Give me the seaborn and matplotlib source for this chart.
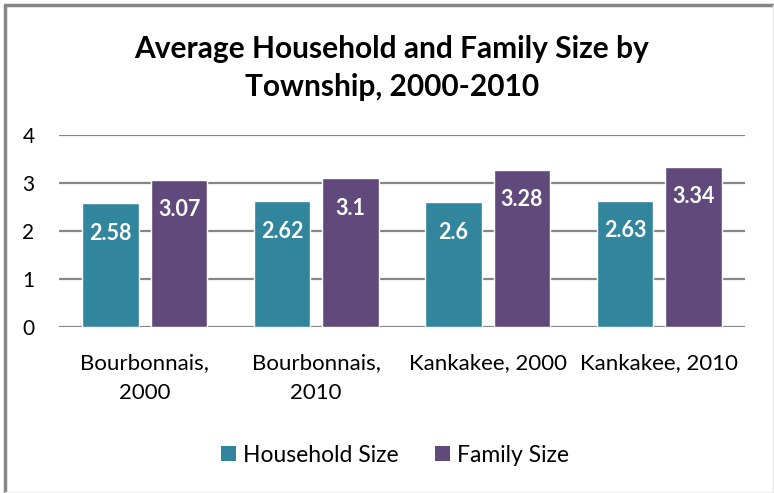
import pandas as pd
import seaborn as sns
import matplotlib.pyplot as plt
from matplotlib.lines import Line2D
from matplotlib.patches import Patch

townships = ['Bourbonnais,\n2000', 'Bourbonnais,\n2010', 'Kankakee, 2000', 'Kankakee, 2010']
household_size = [2.58, 2.62, 2.6, 2.63]
family_size = [3.07, 3.1, 3.28, 3.34]
series = ['Household Size', 'Family Size']
colors = ['#31859C', '#604A7B']

df = pd.DataFrame({
    'township': townships * 2,
    'value': household_size + family_size,
    'series': [series[0]] * 4 + [series[1]] * 4,
})

sns.set_theme(style='white')
plt.rcParams['font.family'] = ['Lato', 'DejaVu Sans']

fig = plt.figure(figsize=(7.74, 4.93), dpi=100)
ax = fig.add_axes([0.0762, 0.3367, 0.8863, 0.3895])

sns.barplot(data=df, x='township', y='value', hue='series', palette=colors,
            width=0.8, gap=0.18, saturation=1, legend=False, ax=ax)

ax.set_ylim(0, 4)
ax.set_yticks([0, 1, 2, 3, 4])
ax.yaxis.grid(True, color='#868686', linewidth=1.6)
ax.set_axisbelow(True)
for s in ax.spines.values():
    s.set_visible(False)
ax.set_xlabel('')
ax.set_ylabel('')
ax.tick_params(axis='y', labelsize=15, length=0, pad=22, labelcolor='black')
ax.tick_params(axis='x', labelsize=16, length=0, pad=19, labelcolor='black')
for lab in ax.get_yticklabels():
    lab.set_horizontalalignment('center')
for lab in ax.get_xticklabels():
    lab.set_linespacing(1.6)

# value labels inside bar ends
for cont in ax.containers:
    for bar in cont:
        h = bar.get_height()
        ax.annotate(f'{h:g}', xy=(bar.get_x() + bar.get_width() / 2, h),
                    xytext=(0, -21.5), textcoords='offset points',
                    ha='center', va='center', color='white',
                    fontsize=15.5, fontweight='bold')

fig.text(0.506, 0.862, 'Average Household and Family Size by\nTownship, 2000-2010',
         ha='center', va='center', fontsize=21.5, fontweight='bold',
         linespacing=1.4, color='black')

handles = [Patch(facecolor=c, edgecolor='none') for c in colors]
fig.legend(handles, series, loc='center', bbox_to_anchor=(0.51, 1 - 455 / 493),
           ncol=2, frameon=False, fontsize=16.5, handlelength=0.65, handleheight=0.65,
           handletextpad=0.3, columnspacing=1.6, labelcolor='black')

# chart frame
fig.add_artist(Line2D([5 / 774, 5 / 774], [0, 1 - 5 / 493], color='#868686', lw=2.5, transform=fig.transFigure))
fig.add_artist(Line2D([5 / 774, 1], [1 - 5 / 493, 1 - 5 / 493], color='#868686', lw=2.5, transform=fig.transFigure))
fig.add_artist(Line2D([1 - 1.5 / 774, 1 - 1.5 / 774], [0, 1 - 5 / 493], color='#e6e6e6', lw=1, transform=fig.transFigure))
fig.add_artist(Line2D([5 / 774, 1], [1.5 / 493, 1.5 / 493], color='#eeeeee', lw=1, transform=fig.transFigure))

fig.savefig('out.png', dpi=100)
